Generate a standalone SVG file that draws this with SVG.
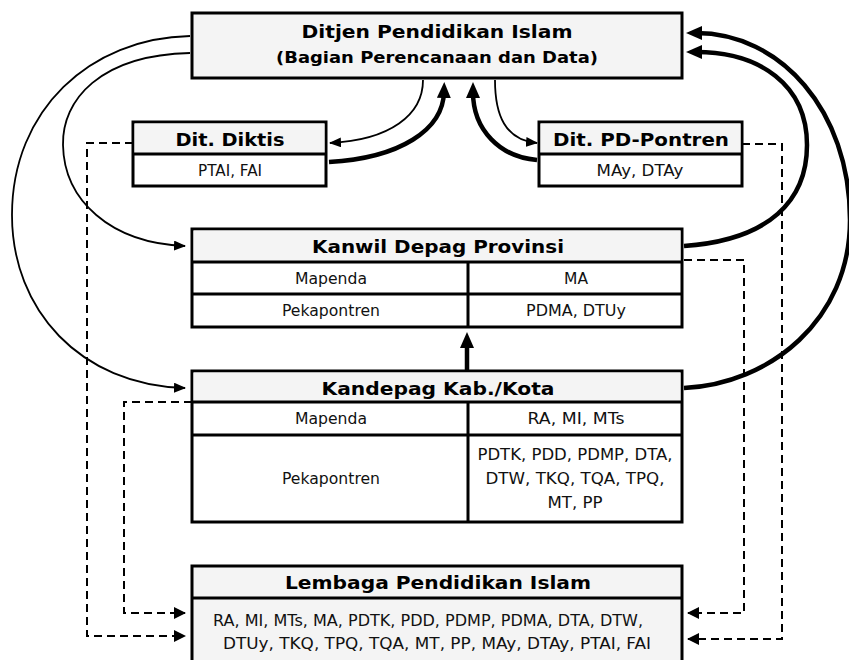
<svg xmlns="http://www.w3.org/2000/svg" width="849" height="660" viewBox="0 0 849 660">
<style>
.box{fill:#ffffff;stroke:#000;stroke-width:3}
.hd{fill:#f4f4f4}
.ln{stroke:#000;stroke-width:3;fill:none}
.t{font-family:"DejaVu Sans",Verdana,sans-serif;font-weight:bold;fill:#000;text-anchor:middle}
.r{font-family:"DejaVu Sans",Verdana,sans-serif;font-size:15px;fill:#111;text-anchor:middle}
.thin{fill:none;stroke:#000;stroke-width:1.8}
.thick{fill:none;stroke:#000;stroke-width:4.5}
.dash{fill:none;stroke:#000;stroke-width:2;stroke-dasharray:8 5}
</style>
<defs>
<marker id="ah" viewBox="0 0 12 10" markerWidth="12" markerHeight="10" refX="11" refY="5" orient="auto" markerUnits="userSpaceOnUse"><path d="M0,0 L12,5 L0,10 z" fill="#000"/></marker>
<marker id="ahk" viewBox="0 0 16 14" markerWidth="16" markerHeight="14" refX="6" refY="7" orient="auto" markerUnits="userSpaceOnUse"><path d="M0,0 L16,7 L0,14 z" fill="#000"/></marker>
<marker id="ahd" viewBox="0 0 12 12" markerWidth="12" markerHeight="12" refX="11" refY="6" orient="auto" markerUnits="userSpaceOnUse"><path d="M0,0 L12,6 L0,12 z" fill="#000"/></marker>
</defs>

<g id="connectors">
<path class="thin" d="M190,36 C90,38 12,110 12,215 C12,310 80,385 185,388" marker-end="url(#ah)"/>
<path class="thin" d="M190,53 C100,55 62,100 63,145 C64,200 110,243 185,246" marker-end="url(#ah)"/>
<path class="thin" d="M423,80 C423,115 390,140 330,143" marker-end="url(#ah)"/>
<path class="thick" d="M329,162 C400,158 443,130 444,92" marker-end="url(#ahk)"/>
<path class="thick" d="M537,160 C500,157 473,130 473,92" marker-end="url(#ahk)"/>
<path class="thin" d="M495,80 C495,115 505,140 537,143" marker-end="url(#ah)"/>
<path class="thick" d="M684,246 C770,240 807,200 807,145 C807,85 760,52 696,52" marker-end="url(#ahk)"/>
<path class="thick" d="M684,388 C770,384 850,320 850,220 C850,110 780,33 696,33" marker-end="url(#ahk)"/>
<path class="thick" d="M467,370 V342" marker-end="url(#ahk)"/>
<path class="dash" d="M133,143 H87 V636 H185" marker-end="url(#ahd)"/>
<path class="dash" d="M192,402 H124 V613 H185" marker-end="url(#ahd)"/>
<path class="dash" d="M684,260 H744 V613 H688" marker-end="url(#ahd)"/>
<path class="dash" d="M742,144 H782 V639 H688" marker-end="url(#ahd)"/>
</g>

<g id="ditjen">
<rect class="box hd" x="192" y="13" width="490" height="65"/>
<text class="t" x="437" y="38" font-size="18" textLength="271" lengthAdjust="spacingAndGlyphs">Ditjen Pendidikan Islam</text>
<text class="t" x="437" y="63" font-size="16" textLength="322" lengthAdjust="spacingAndGlyphs">(Bagian Perencanaan dan Data)</text>
</g>

<g id="diktis">
<rect class="box" x="133" y="122" width="193" height="64"/>
<rect class="hd" x="134.5" y="123.5" width="190" height="30.5"/>
<path class="ln" d="M133,154 H326"/>
<text class="t" x="230" y="146" font-size="17" textLength="109" lengthAdjust="spacingAndGlyphs">Dit. Diktis</text>
<text class="r" x="230" y="176" textLength="64" lengthAdjust="spacingAndGlyphs">PTAI, FAI</text>
</g>

<g id="pdpontren">
<rect class="box" x="539" y="122" width="203" height="64"/>
<rect class="hd" x="540.5" y="123.5" width="200" height="30.5"/>
<path class="ln" d="M539,154 H742"/>
<text class="t" x="641" y="146" font-size="17" textLength="176" lengthAdjust="spacingAndGlyphs">Dit. PD-Pontren</text>
<text class="r" x="640" y="176" textLength="87" lengthAdjust="spacingAndGlyphs">MAy, DTAy</text>
</g>

<g id="kanwil">
<rect class="box" x="192" y="229" width="490" height="98"/>
<rect class="hd" x="193.5" y="230.5" width="487" height="31.5"/>
<path class="ln" d="M192,262 H682 M192,294 H682 M468,262 V327"/>
<text class="t" x="438" y="253" font-size="18" textLength="252" lengthAdjust="spacingAndGlyphs">Kanwil Depag Provinsi</text>
<text class="r" x="331" y="284" textLength="72" lengthAdjust="spacingAndGlyphs">Mapenda</text>
<text class="r" x="576" y="284" textLength="24" lengthAdjust="spacingAndGlyphs">MA</text>
<text class="r" x="331" y="316" textLength="98" lengthAdjust="spacingAndGlyphs">Pekapontren</text>
<text class="r" x="576" y="316" textLength="100" lengthAdjust="spacingAndGlyphs">PDMA, DTUy</text>
</g>

<g id="kandepag">
<rect class="box" x="192" y="371" width="490" height="151"/>
<rect class="hd" x="193.5" y="372.5" width="487" height="29.5"/>
<path class="ln" d="M192,402 H682 M192,435 H682 M468,402 V522"/>
<text class="t" x="438" y="395" font-size="18" textLength="233" lengthAdjust="spacingAndGlyphs">Kandepag Kab./Kota</text>
<text class="r" x="331" y="424" textLength="72" lengthAdjust="spacingAndGlyphs">Mapenda</text>
<text class="r" x="576" y="424" textLength="97" lengthAdjust="spacingAndGlyphs">RA, MI, MTs</text>
<text class="r" x="331" y="484" textLength="98" lengthAdjust="spacingAndGlyphs">Pekapontren</text>
<text class="r" x="575" y="460" textLength="195" lengthAdjust="spacingAndGlyphs">PDTK, PDD, PDMP, DTA,</text>
<text class="r" x="575" y="484" textLength="179" lengthAdjust="spacingAndGlyphs">DTW, TKQ, TQA, TPQ,</text>
<text class="r" x="575" y="508" textLength="55" lengthAdjust="spacingAndGlyphs">MT, PP</text>
</g>

<g id="lembaga">
<rect class="box hd" x="192" y="566" width="490" height="110"/>
<path class="ln" d="M192,598 H682"/>
<text class="t" x="438" y="589" font-size="18" textLength="306" lengthAdjust="spacingAndGlyphs">Lembaga Pendidikan Islam</text>
<text class="r" x="428" y="626" textLength="430" lengthAdjust="spacingAndGlyphs">RA, MI, MTs, MA, PDTK, PDD, PDMP, PDMA, DTA, DTW,</text>
<text class="r" x="437" y="649" textLength="428" lengthAdjust="spacingAndGlyphs">DTUy, TKQ, TPQ, TQA, MT, PP, MAy, DTAy, PTAI, FAI</text>
</g>
</svg>
